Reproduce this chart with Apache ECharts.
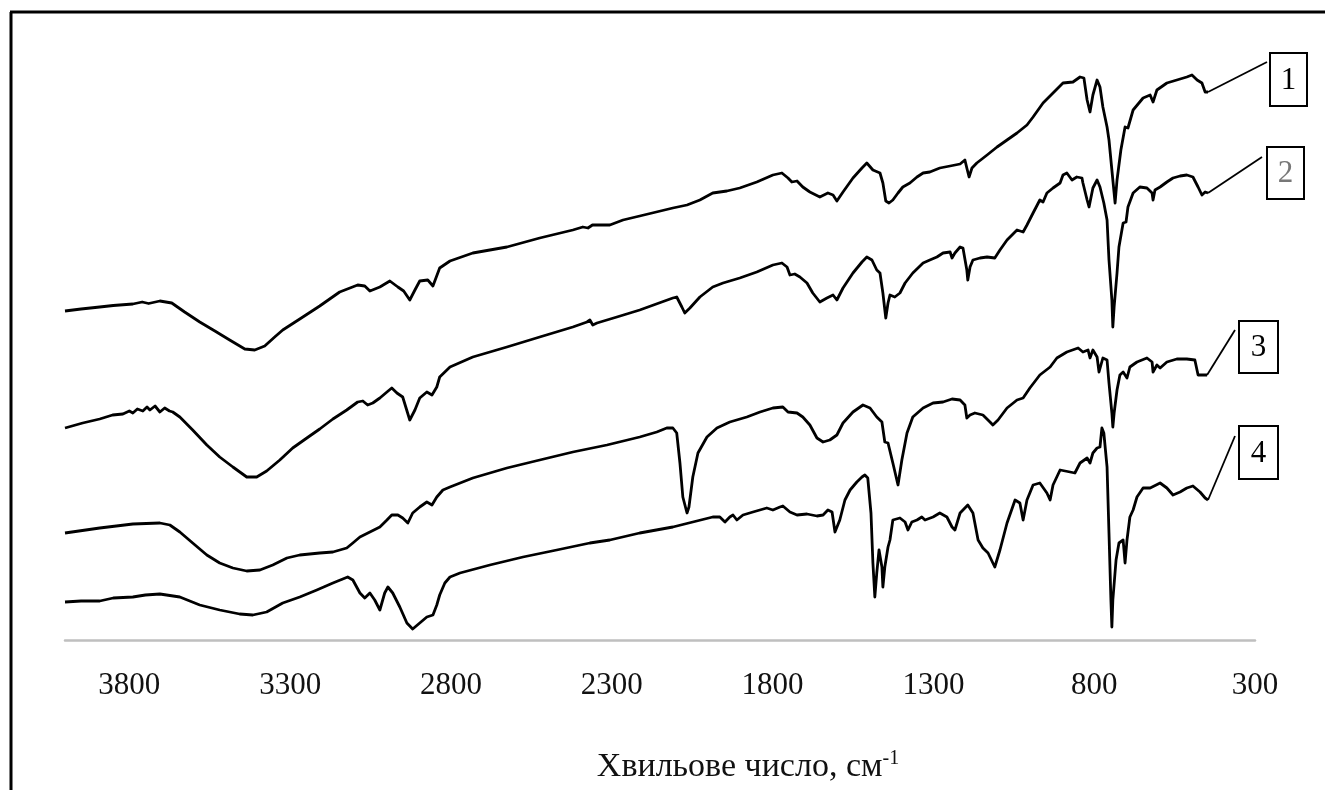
<!DOCTYPE html>
<html>
<head>
<meta charset="utf-8">
<script src="https://cdn.jsdelivr.net/npm/echarts@6/dist/echarts.min.js"></script>
<style>
  html, body { margin: 0; padding: 0; background: #ffffff; }
  #chart { width: 1325px; height: 790px; }
</style>
</head>
<body>
<div id="chart"></div>
<script>
// IR spectra: wavenumber (cm-1) vs. offset transmittance (arbitrary units)
const tickLabels = [300, 800, 1300, 1800, 2300, 2800, 3300, 3800];
const curveLabels = ['1', '2', '3', '4'];

const spectrum1 = [
  [4000,65.8],[3950,66.2],[3892,66.6],[3850,66.9],[3789,67.2],[3760,67.6],[3740,67.3],[3705,67.8],[3668,67.4],
  [3628,65.6],[3581,63.6],[3534,61.8],[3488,60],[3441,58.2],[3410,58],[3379,58.8],[3348,60.6],[3323,62],
  [3270,64.2],[3208,66.8],[3146,69.6],[3090,71],[3068,70.8],[3052,69.8],[3021,70.6],[2990,71.8],[2965,70.6],
  [2947,69.8],[2928,68],[2912,70],[2897,71.8],[2872,72],[2856,70.8],[2835,74.4],[2803,75.8],[2732,77.4],
  [2626,78.6],[2524,80.4],[2421,82],[2390,82.6],[2374,82.4],[2360,83],[2346,83],[2306,83],[2265,84],[2213,84.8],
  [2110,86.4],[2066,87],[2026,88],[1986,89.4],[1942,89.8],[1902,90.4],[1849,91.6],[1799,93],[1771,93.4],
  [1752,92.4],[1740,91.6],[1724,91.8],[1706,90.6],[1684,89.6],[1653,88.6],[1628,89.4],[1612,89],[1600,87.8],
  [1581,89.6],[1550,92.4],[1522,94.4],[1507,95.4],[1488,94],[1466,93.4],[1457,91.4],[1448,87.8],[1438,87.4],
  [1426,88],[1410,89.4],[1395,90.6],[1373,91.4],[1351,92.6],[1332,93.4],[1311,93.6],[1280,94.4],[1248,94.8],
  [1217,95.2],[1202,96],[1196,94.4],[1189,92.6],[1180,94.4],[1165,95.4],[1133,97],[1102,98.6],[1071,100],
  [1040,101.4],[1009,103],[990,104.6],[959,107.4],[928,109.4],[897,111.4],[866,111.6],[844,112.6],[832,112.4],
  [822,108],[813,105.6],[804,109],[791,112],[782,110.6],[773,106.6],[760,102.6],[754,100],[742,92],[735,87.4],
  [729,92],[717,98],[704,102.6],[695,102.4],[679,106],[648,108.4],[626,109],[617,107.6],[605,110],[574,111.4],
  [543,112],[512,112.6],[496,113],[480,112],[465,111.4],[455,109.6],[446,109.6]
];

const spectrum2 = [
  [4000,42.4],[3945,43.4],[3892,44.2],[3852,45],[3820,45.2],[3800,45.8],[3789,45.4],[3775,46.2],[3758,45.8],
  [3745,46.6],[3736,46],[3720,46.8],[3705,45.6],[3690,46.4],[3675,45.8],[3665,45.6],[3643,44.6],[3603,42],
  [3559,39],[3519,36.6],[3478,34.6],[3435,32.6],[3404,32.6],[3373,33.8],[3332,36],[3292,38.4],[3248,40.4],
  [3208,42.2],[3167,44.2],[3124,46],[3090,47.6],[3074,47.8],[3059,47],[3043,47.4],[3021,48.4],[2999,49.6],
  [2984,50.4],[2968,49.4],[2950,48.6],[2928,44],[2912,46],[2897,48.4],[2875,49.6],[2859,49],[2853,48.6],
  [2844,50.6],[2835,52.6],[2803,54.6],[2732,56.6],[2626,58.6],[2524,60.6],[2421,62.6],[2377,63.6],[2368,64],
  [2359,63],[2346,63.4],[2284,64.6],[2213,66],[2110,68.4],[2098,68.6],[2082,66.6],[2073,65.4],[2057,66.4],
  [2026,68.6],[1986,70.6],[1954,71.4],[1902,72.4],[1849,73.6],[1799,75],[1771,75.4],[1755,74.6],[1746,73],
  [1731,73.2],[1715,72.6],[1693,71.4],[1675,69.4],[1653,67.6],[1631,68.4],[1612,69],[1600,68],[1581,70.4],
  [1550,73.4],[1522,75.6],[1507,76.6],[1491,76],[1476,74],[1466,73.4],[1457,69.4],[1448,64.4],[1441,67.4],
  [1435,69],[1420,68.6],[1404,69.4],[1388,71.4],[1364,73.4],[1332,75.4],[1311,76],[1289,76.6],[1270,77.4],
  [1248,77.6],[1242,76.4],[1233,77.4],[1217,78.6],[1208,78.4],[1196,74],[1193,72],[1186,74.6],[1177,76],
  [1155,76.4],[1133,76.6],[1109,76.4],[1093,78],[1071,80],[1040,82],[1021,81.6],[1009,83],[990,85.4],
  [969,88],[959,87.6],[947,89.4],[928,90.4],[906,91.4],[897,93],[885,93.4],[869,92],[854,92.6],[838,92.4],
  [835,91.4],[822,88],[816,86.6],[804,90.4],[791,92],[782,90.6],[770,87.4],[760,84],[754,76],[745,68],
  [742,62.6],[738,66.6],[729,73.4],[723,78.6],[710,83.4],[701,83.6],[695,86.6],[679,89.4],[658,90.6],
  [636,90.4],[620,89.4],[617,88],[611,90],[595,90.6],[574,91.6],[555,92.4],[533,92.8],[512,93],[493,92.6],
  [477,90.6],[465,89],[455,89.6],[446,89.4]
];

const spectrum3 = [
  [4000,21.4],[3892,22.4],[3789,23.2],[3705,23.4],[3674,23],[3643,21.6],[3603,19.4],[3559,17],[3519,15.4],
  [3478,14.4],[3435,13.8],[3394,14],[3354,15],[3310,16.4],[3270,17],[3208,17.4],[3167,17.6],[3124,18.4],
  [3105,19.4],[3083,20.6],[3052,21.6],[3021,22.6],[2999,24],[2984,25],[2965,25],[2950,24.4],[2934,23.4],
  [2919,25.4],[2897,26.6],[2875,27.6],[2859,27],[2844,28.6],[2825,30],[2803,30.6],[2732,32.4],[2626,34.4],
  [2524,36],[2421,37.6],[2315,39],[2213,40.6],[2160,41.6],[2129,42.4],[2110,42.4],[2098,41.4],[2088,35.4],
  [2079,28.6],[2066,25.4],[2060,26.6],[2048,32.6],[2032,37.4],[2004,40.6],[1973,42.4],[1933,43.6],[1880,44.6],
  [1839,45.6],[1799,46.4],[1768,46.6],[1752,45.6],[1724,45.4],[1706,44.6],[1684,43],[1662,40.4],[1643,39.6],
  [1622,40],[1600,41],[1581,43.4],[1550,45.6],[1519,47],[1497,46.4],[1476,44.6],[1460,43.6],[1451,39.6],
  [1441,39.4],[1426,35.4],[1410,31],[1398,36],[1382,41.4],[1364,44.6],[1332,46.4],[1301,47.4],[1270,47.6],
  [1242,48.2],[1217,48],[1202,47],[1196,44.4],[1186,45],[1171,45.4],[1146,45],[1124,43.6],[1115,43],
  [1099,44],[1071,46.4],[1040,48],[1021,48.4],[1000,50.4],[969,53],[937,54.6],[916,56.4],[885,57.6],
  [850,58.4],[835,57.6],[819,58],[813,56.4],[804,58],[791,56.6],[785,53.6],[773,56.4],[760,56],[754,51.4],
  [745,45.4],[742,42.6],[738,45.4],[729,50],[720,53],[710,53.6],[698,52.4],[689,54.6],[667,55.6],[636,56.4],
  [620,55.6],[617,53.6],[605,55],[595,54.4],[574,55.6],[543,56.2],[512,56.2],[487,56],[477,53],[449,53]
];

const spectrum4 = [
  [4000,7.6],[3950,7.8],[3892,7.8],[3850,8.4],[3789,8.6],[3750,9],[3705,9.2],[3643,8.6],[3581,7],[3519,6],
  [3457,5.2],[3416,5],[3373,5.6],[3323,7.4],[3270,8.6],[3217,10],[3167,11.4],[3121,12.6],[3105,12],[3083,9.4],
  [3068,8.4],[3052,9.4],[3037,8],[3021,6],[3006,9.4],[2996,10.6],[2981,9.4],[2959,6.6],[2937,3.4],[2919,2.2],
  [2897,3.4],[2875,4.6],[2856,5],[2844,7],[2835,9],[2819,11.4],[2803,12.6],[2772,13.4],[2679,15],[2576,16.6],
  [2471,18],[2368,19.4],[2306,20],[2213,21.4],[2110,22.6],[1986,24.6],[1964,24.6],[1948,23.6],[1933,24.6],
  [1923,25],[1911,24],[1892,25],[1861,25.6],[1818,26.4],[1799,26],[1777,26.6],[1768,26.8],[1746,25.6],
  [1724,25],[1693,25.2],[1662,24.8],[1643,25],[1628,26],[1615,25.6],[1606,21.6],[1600,21.4],[1591,24],
  [1575,28],[1559,30],[1538,31.6],[1522,32.6],[1513,33],[1504,32.4],[1494,25.4],[1488,15.4],[1482,8.6],
  [1476,13.4],[1469,18],[1460,14.6],[1457,10.6],[1451,14.6],[1441,18.6],[1435,20],[1426,24],[1404,24.4],
  [1388,23.6],[1379,22],[1367,23.6],[1351,24],[1336,24.6],[1326,24],[1301,24.6],[1280,25.4],[1258,24.6],
  [1242,22.6],[1233,22],[1217,25.4],[1193,27],[1177,25.4],[1161,20],[1146,18.4],[1130,17.4],[1109,14.6],
  [1093,18],[1071,23.4],[1046,28],[1031,27.4],[1021,24],[1009,28],[990,31],[969,31.4],[947,29.4],[937,28],
  [928,31],[906,34],[875,33.6],[860,33.4],[844,35.4],[822,36.4],[813,35.4],[804,37.4],[791,38.4],[782,38.6],
  [776,42.4],[770,41.4],[760,34.6],[754,21.4],[748,8],[745,2.6],[742,8],[732,16],[723,19.4],[710,20],
  [704,15.4],[698,20],[689,24.6],[679,26],[667,28.6],[648,30.4],[626,30.4],[595,31.4],[574,30.4],[555,29],
  [533,29.6],[512,30.4],[493,30.8],[471,29.6],[455,28.4],[446,28]
];

const spectra = [spectrum1, spectrum2, spectrum3, spectrum4];

const serif = '"Liberation Serif", "DejaVu Serif", serif';

const chart = echarts.init(document.getElementById('chart'), null, { renderer: 'canvas' });

chart.setOption({
  backgroundColor: '#ffffff',
  animation: false,
  grid: { left: 65, right: 70, top: 40, bottom: 150, containLabel: false },
  xAxis: {
    type: 'value',
    min: 300,
    max: 4000,
    inverse: true,
    axisLine: { show: true, onZero: false, lineStyle: { color: '#bfbfbf', width: 2.5 } },
    axisTick: { show: false },
    splitLine: { show: false },
    axisLabel: {
      customValues: tickLabels,
      formatter: (v) => String(v),
      margin: 30,
      color: '#111111',
      fontFamily: serif,
      fontSize: 31
    }
  },
  yAxis: {
    type: 'value',
    min: 0,
    max: 120,
    show: false,
    splitLine: { show: false }
  },
  series: spectra.map((data, i) => ({
    name: curveLabels[i],
    type: 'line',
    data: data,
    showSymbol: false,
    smooth: false,
    lineStyle: { color: '#000000', width: 2.8, join: 'round' },
    silent: true
  }))
});

// Numbered boxes with leader lines from each curve's last point
const boxes = [
  { x: 1270, y: 53, w: 37, h: 53, tip: [1267, 62], color: '#000000' },
  { x: 1267, y: 147, w: 37, h: 52, tip: [1262, 157], color: '#777777' },
  { x: 1239, y: 321, w: 39, h: 52, tip: [1235, 330], color: '#000000' },
  { x: 1239, y: 426, w: 39, h: 53, tip: [1235, 436], color: '#000000' }
];

const graphics = [
  // outer frame (top and left edges)
  { type: 'line', shape: { x1: 10, y1: 12, x2: 1325, y2: 12 }, style: { stroke: '#000', lineWidth: 3 } },
  { type: 'line', shape: { x1: 11, y1: 12, x2: 11, y2: 790 }, style: { stroke: '#000', lineWidth: 3 } },
  // axis title with superscript
  {
    type: 'text',
    x: 748, y: 767,
    style: {
      text: '{a|Хвильове число, см}{s|-1}',
      align: 'center',
      verticalAlign: 'middle',
      rich: {
        a: { fontFamily: serif, fontSize: 34, fill: '#111111' },
        s: { fontFamily: serif, fontSize: 20, fill: '#111111', padding: [0, 0, 17, 0] }
      }
    }
  }
];

spectra.forEach((data, i) => {
  const b = boxes[i];
  const end = chart.convertToPixel({ gridIndex: 0 }, data[data.length - 1]);
  graphics.push({
    type: 'line',
    shape: { x1: end[0], y1: end[1], x2: b.tip[0], y2: b.tip[1] },
    style: { stroke: '#000', lineWidth: 1.8 }
  });
  graphics.push({
    type: 'rect',
    shape: { x: b.x, y: b.y, width: b.w, height: b.h },
    style: { fill: '#ffffff', stroke: '#000', lineWidth: 2 }
  });
  graphics.push({
    type: 'text',
    x: b.x + b.w / 2, y: b.y + b.h / 2 + 1,
    style: {
      text: curveLabels[i],
      align: 'center',
      verticalAlign: 'middle',
      fontFamily: serif,
      fontSize: 31,
      fill: b.color
    }
  });
});

chart.setOption({ graphic: graphics });
</script>
</body>
</html>
